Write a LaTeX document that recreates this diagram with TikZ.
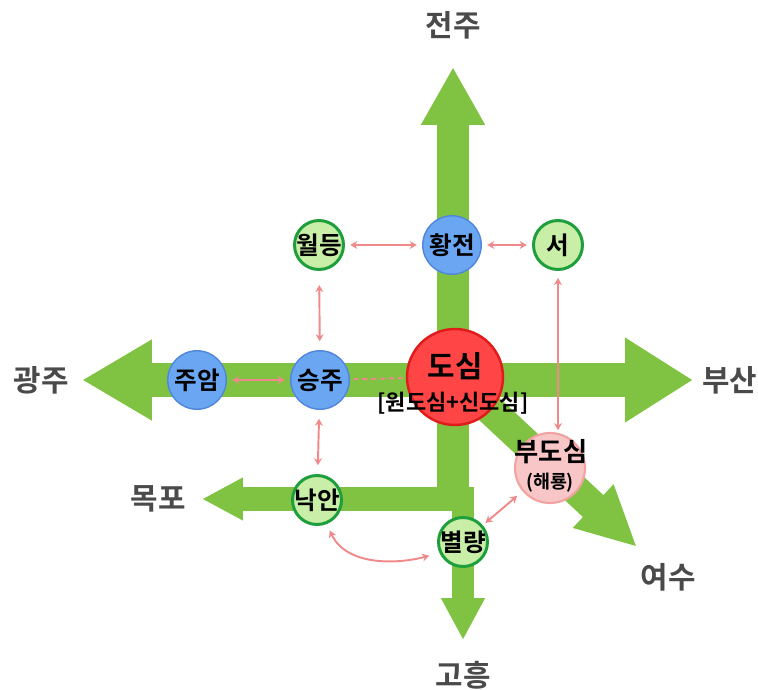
\documentclass[tikz,border=0pt]{standalone}
\usepackage{fontspec}
\setmainfont{Noto Sans CJK KR}[BoldFont={Noto Sans CJK KR Bold}]
\usetikzlibrary{positioning,arrows.meta}
\definecolor{roadGreen}{HTML}{80C342}
\definecolor{hubBlue}{HTML}{6AA6F2}
\definecolor{hubEdge}{HTML}{4F86DA}
\definecolor{coreRed}{HTML}{FF4545}
\definecolor{coreEdge}{HTML}{E01B1B}
\definecolor{townFill}{HTML}{C8EEA8}
\definecolor{townEdge}{HTML}{1E9E3C}
\definecolor{subFill}{HTML}{F8C6C6}
\definecolor{subEdge}{HTML}{F2A2A2}
\definecolor{linkPink}{HTML}{F08A8A}
\definecolor{cityGray}{HTML}{4A4A4A}

\begin{document}
\begin{tikzpicture}[x=0.02cm, y=-0.02cm, font=\bfseries,
    road/.style={draw=roadGreen, line cap=butt},
    hub/.style={circle, draw=hubEdge, line width=0.8pt, fill=hubBlue, minimum size=1.17cm, inner sep=0pt, font=\bfseries\fontsize{14}{14}\selectfont},
    town/.style={circle, draw=townEdge, line width=1.7pt, fill=townFill, minimum size=0.98cm, inner sep=0pt, font=\bfseries\fontsize{14}{14}\selectfont},
    link/.style={draw=linkPink, line width=1.1pt, {Stealth[length=4pt,width=4.5pt]}-{Stealth[length=4pt,width=4.5pt]}, shorten <=3pt, shorten >=3pt},
    city/.style={text=cityGray, font=\bfseries\fontsize{17}{17}\selectfont, inner sep=0pt}]
  \useasboundingbox (0,0) rectangle (758,690);
  % road ends
  \coordinate (northTip) at (453,67);
  \coordinate (southTip) at (463,640);
  \coordinate (westTip) at (82,380);
  \coordinate (eastTip) at (693,380);
  \coordinate (mokpoTip) at (202,499);
  \coordinate (yeosuTip) at (637,547);
  \coordinate (bend) at (453,511);
  \coordinate (mokpoStart) at (474,499);
  \coordinate (southStart) at (463,505);
  % green roads
  \draw[road, line width=0.64cm, -{Triangle[length=1.16cm,width=1.2cm]}] (bend) -- (northTip);
  \draw[road, line width=0.68cm, {Triangle[length=1.4cm,width=1.52cm]}-{Triangle[length=1.36cm,width=1.6cm]}] (westTip) -- (eastTip);
  \draw[road, line width=0.48cm, -{Triangle[length=0.82cm,width=0.8cm]}] (mokpoStart) -- (mokpoTip);
  \draw[road, line width=0.44cm, -{Triangle[length=0.84cm,width=0.82cm]}] (southStart) -- (southTip);
  \draw[road, line width=0.6cm, -{Triangle[length=1.2cm,width=1.1cm]}] (455,377) -- (yeosuTip);
  % places
  \node[circle, draw=coreEdge, line width=1.4pt, fill=coreRed, minimum size=1.92cm, inner sep=0pt] (core) at (455,377) {};
  \node[font=\bfseries\fontsize{17}{17}\selectfont, inner sep=0pt] (coreName) at (455,366) {도심};
  \node[font=\bfseries\fontsize{12.5}{12.5}\selectfont, inner sep=0pt] (coreSub) at (453,403) {[원도심+신도심]};
  \node[hub] (jooam) at (197,380) {\makebox[0pt]{주암}};
  \node[hub] (seungju) at (320,380) {\makebox[0pt]{승주}};
  \node[hub] (hwangjeon) at (452,245) {\makebox[0pt]{황전}};
  \node[town] (woldeung) at (319,245) {\makebox[0pt]{월등}};
  \node[town] (seo) at (558,245) {\makebox[0pt]{서}};
  \node[town] (nakan) at (317,500) {\makebox[0pt]{낙안}};
  \node[town] (byeol) at (463,542) {\makebox[0pt]{별량}};
  \node[circle, draw=subEdge, line width=1.2pt, fill=subFill, minimum size=1.4cm, inner sep=0pt] (budosim) at (550,468) {};
  \node[font=\bfseries\fontsize{15}{15}\selectfont, inner sep=0pt] (budoName) at (551,452) {부도심};
  \node[font=\bfseries\fontsize{10.5}{10.5}\selectfont, inner sep=0pt] (budoSub) at (550,483) {(해룡)};
  % links
  \draw[link] (woldeung) -- (hwangjeon);
  \draw[link] (hwangjeon) -- (seo);
  \draw[link, shorten <=8pt, shorten >=5pt] (woldeung) -- (seungju);
  \draw[link] (jooam) -- (seungju);
  \draw[draw=linkPink, line width=1.1pt, densely dashed, shorten <=2pt, shorten >=2pt] (seungju) -- (core);
  \draw[link, shorten <=5pt, shorten >=5pt] (seungju) -- (nakan);
  \draw[link, shorten <=4pt, shorten >=1pt] (seo.south) -- (seo.south |- budosim.north);
  \draw[link, shorten <=4pt, shorten >=6pt] (nakan.-68) to[out=-65, in=195] (byeol.205);
  \draw[link, shorten <=2pt, shorten >=4pt] (byeol) -- (budosim);
  % cities
  \node[city, above=5.4mm of northTip] (jeonju) {전주};
  \node[city, below=4.2mm of southTip] (goheung) {고흥};
  \node[city, left=2.6mm of westTip] (gwangju) {광주};
  \node[city, right=1.8mm of eastTip] (busan) {부산};
  \node[city, left=3.2mm of mokpoTip] (mokpo) {목포};
  \node[city] (yeosu) at (668,577) {여수};
\end{tikzpicture}
\end{document}
